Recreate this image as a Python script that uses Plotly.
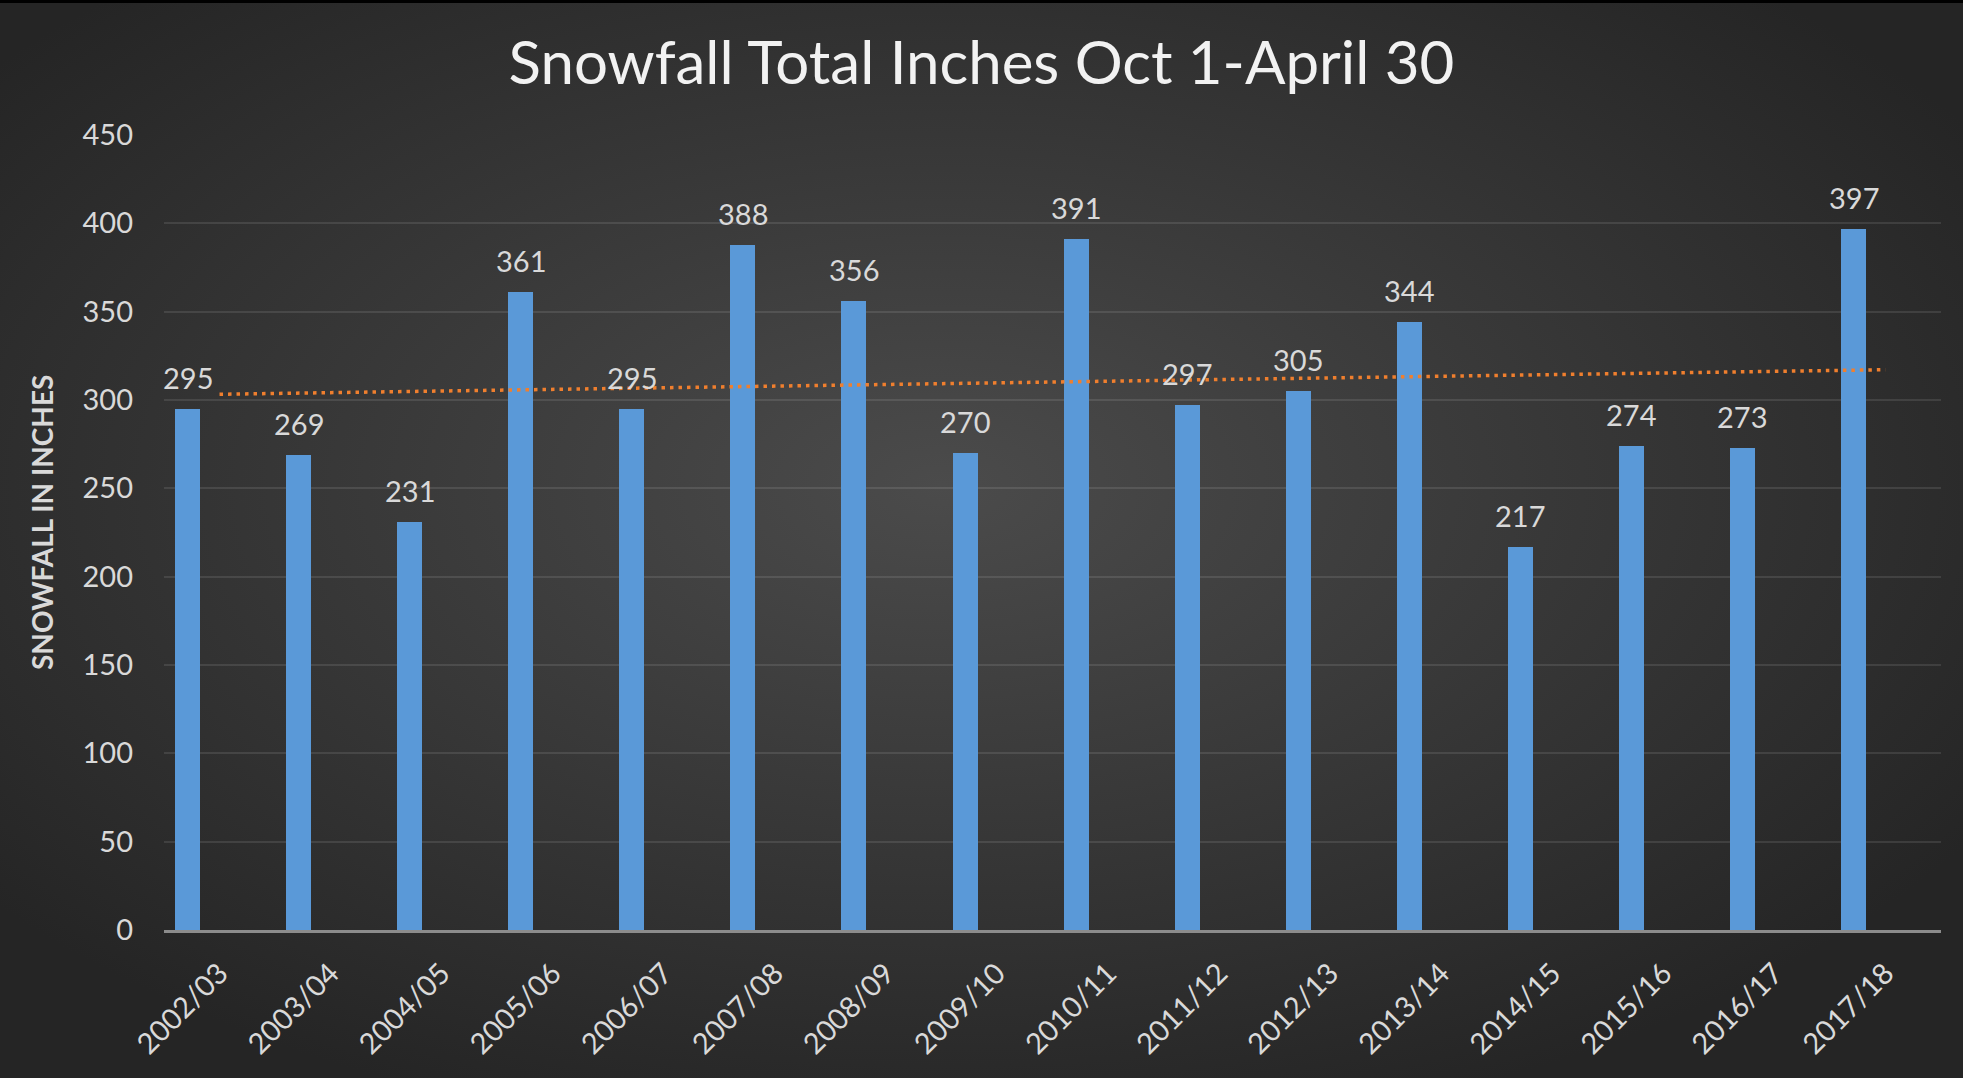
import base64
import numpy as np
import plotly.graph_objects as go

seasons = ["2002/03", "2003/04", "2004/05", "2005/06", "2006/07", "2007/08", "2008/09", "2009/10",
           "2010/11", "2011/12", "2012/13", "2013/14", "2014/15", "2015/16", "2016/17", "2017/18"]
snowfall = [295, 269, 231, 361, 295, 388, 356, 270, 391, 297, 305, 344, 217, 274, 273, 397]
y_ticks = [0, 50, 100, 150, 200, 250, 300, 350, 400, 450]

title_text = "Snowfall Total Inches Oct 1-April 30"
y_title = "SNOWFALL IN INCHES"

W, H = 1963, 1078
ML, MR, MT, MB = 164, 22, 135, 148
PW, PH = W - ML - MR, H - MT - MB

BAR_OFFSET = -0.40
BAR_WIDTH = 0.225
cat_px = PW / len(seasons)
label_shift = (BAR_OFFSET + BAR_WIDTH / 2) * cat_px

# linear trend from the data
xi = np.arange(1, len(snowfall) + 1)
slope, intercept = np.polyfit(xi, snowfall, 1)
trend = slope * xi + intercept

TXT = "#d9d9d9"
FONT = "Lato"

svg = (
    f'<svg xmlns="http://www.w3.org/2000/svg" width="{W}" height="{H}">'
    '<defs><radialGradient id="g" cx="48%" cy="45%" r="62%">'
    '<stop offset="0" stop-color="#4b4b4b"/><stop offset="1" stop-color="#252525"/>'
    '</radialGradient></defs>'
    '<rect width="100%" height="100%" fill="url(#g)"/>'
    '<rect width="100%" height="3" fill="#000"/></svg>'
)
bg_src = "data:image/svg+xml;base64," + base64.b64encode(svg.encode()).decode()

fig = go.Figure()
fig.add_trace(go.Bar(
    x=seasons, y=snowfall,
    offset=BAR_OFFSET, width=BAR_WIDTH,
    marker=dict(color="#5a99d8", line=dict(width=0)),
    hoverinfo="x+y", showlegend=False,
))
fig.add_trace(go.Scatter(
    x=seasons, y=trend, mode="lines",
    line=dict(color="#f07f2e", width=3.5, dash="3.5px,5px"),
    hoverinfo="skip", showlegend=False,
))

annotations = [
    dict(x=s, y=v, xref="x", yref="y", text=str(v), showarrow=False,
         xanchor="center", yanchor="bottom", xshift=label_shift, yshift=12,
         font=dict(family=FONT, size=29, color=TXT))
    for s, v in zip(seasons, snowfall)
]
annotations.append(dict(
    x=(42 - ML) / PW, y=(930 - 523) / PH, xref="paper", yref="paper", text=y_title,
    showarrow=False, textangle=-90, xanchor="center", yanchor="middle",
    font=dict(family=FONT, size=28, color=TXT, weight="bold"),
))

fig.update_layout(
    width=W, height=H,
    margin=dict(l=ML, r=MR, t=MT, b=MB, autoexpand=False),
    paper_bgcolor="#2b2b2b", plot_bgcolor="rgba(0,0,0,0)",
    title=dict(text=title_text, x=0.5, xanchor="center", xref="container",
               y=1 - 63 / H, yanchor="middle", yref="container",
               font=dict(family=FONT, size=60, color="#f2f2f2", weight=400)),
    images=[dict(source=bg_src, xref="paper", yref="paper",
                 x=-ML / PW, y=1 + MT / PH, sizex=W / PW, sizey=H / PH,
                 xanchor="left", yanchor="top", sizing="stretch", layer="below")],
    annotations=annotations,
    xaxis=dict(
        type="category", range=[-0.5, len(seasons) - 0.5],
        showgrid=False, showline=True, linecolor="#8c8c8c", linewidth=2.5,
        tickangle=-45, tickfont=dict(family=FONT, size=29, color=TXT),
        ticks="", ticklabelstandoff=12, zeroline=False,
    ),
    yaxis=dict(
        range=[0, 450], tickvals=y_ticks, showgrid=True,
        gridcolor="rgba(255,255,255,0.10)", gridwidth=1.5,
        zeroline=False, showline=False, ticks="",
        tickfont=dict(family=FONT, size=29, color=TXT), ticklabelstandoff=30,
    ),
    bargap=0,
)

fig.write_html("out.html", config={"displayModeBar": False},
               post_script="document.body.style.margin='0';document.body.style.overflow='hidden';")
